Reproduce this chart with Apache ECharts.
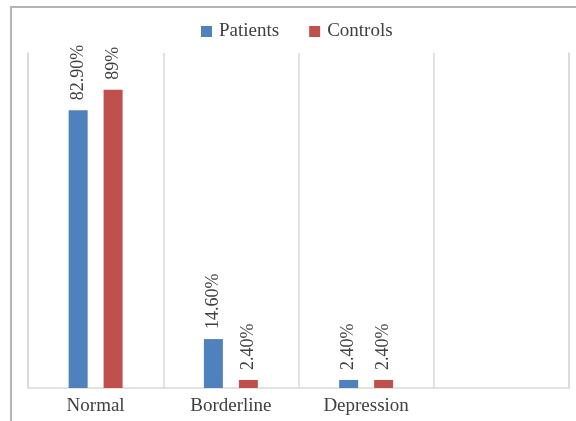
<!DOCTYPE html>
<html>
<head>
<meta charset="utf-8">
<script src="https://cdn.jsdelivr.net/npm/echarts@6/dist/echarts.min.js"></script>
<style>
  html, body { margin: 0; padding: 0; background: #fff; }
  #chart { width: 576px; height: 421px; }
</style>
</head>
<body>
<div id="chart"></div>
<script>
  var categories = ['Normal', 'Borderline', 'Depression', '']
  var patients = [82.9, 14.6, 2.4]
  var controls = [89, 2.4, 2.4]
  var patientLabels = ['82.90%', '14.60%', '2.40%']
  var controlLabels = ['89%', '2.40%', '2.40%']

  var font = '"Liberation Serif", "DejaVu Serif", serif'
  var lineGrey = '#d9d9d9'
  var chart = echarts.init(document.getElementById('chart'))

  function barLabel(texts) {
    return {
      show: true,
      position: 'top',
      rotate: 90,
      align: 'left',
      verticalAlign: 'middle',
      distance: 10,
      color: '#404040',
      fontFamily: font,
      fontSize: 18,
      formatter: function(p) { return texts[p.dataIndex] }
    }
  }

  // only the frame lines, no labels
  function sideAxis(pos) {
    return {
      type: 'value',
      position: pos,
      min: 0,
      max: 100,
      axisLine: { show: true, lineStyle: { color: lineGrey, width: 1.5 } },
      axisTick: { show: false },
      axisLabel: { show: false },
      splitLine: { show: false }
    }
  }

  chart.setOption({
    animation: false,
    graphic: [{
      type: 'rect',
      shape: { x: 11, y: 7, width: 620, height: 480 },
      style: { fill: 'none', stroke: '#b4b4b4', lineWidth: 2 },
      silent: true
    }],
    legend: {
      top: 17,
      left: 196,
      icon: 'rect',
      itemWidth: 11,
      itemHeight: 11,
      itemGap: 30,
      textStyle: { color: '#404040', fontFamily: font, fontSize: 19, padding: [0, 0, 0, 2] },
      data: ['Patients', 'Controls']
    },
    grid: { left: 28, right: 7, top: 53, bottom: 33 },
    xAxis: {
      type: 'category',
      data: categories,
      axisLine: { lineStyle: { color: lineGrey, width: 1.5 } },
      axisTick: { show: false },
      splitLine: { show: true, lineStyle: { color: lineGrey, width: 1.5 } },
      axisLabel: { color: '#404040', fontFamily: font, fontSize: 19, margin: 9 }
    },
    yAxis: [sideAxis('left'), sideAxis('right')],
    series: [{
      name: 'Patients',
      type: 'bar',
      data: patients,
      barWidth: 19,
      barGap: '84%',
      itemStyle: { color: '#4F81BD' },
      label: barLabel(patientLabels)
    }, {
      name: 'Controls',
      type: 'bar',
      data: controls,
      barWidth: 19,
      itemStyle: { color: '#C0504D' },
      label: barLabel(controlLabels)
    }]
  })
</script>
</body>
</html>
